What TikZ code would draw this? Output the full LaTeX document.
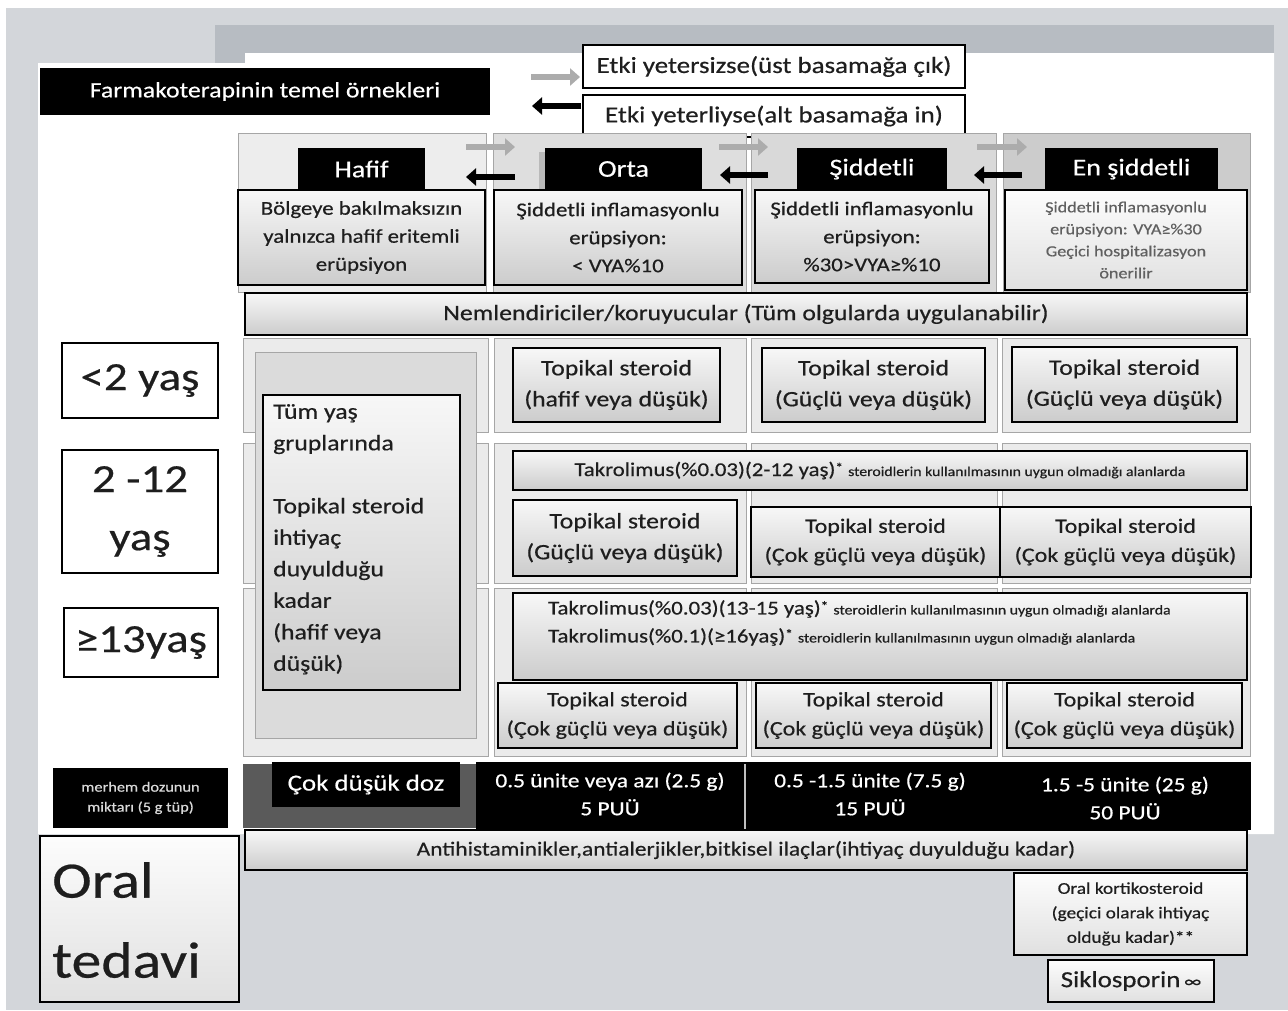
\documentclass[tikz,border=0pt]{standalone}
\usepackage{fontspec}
\setmainfont{Carlito}[FakeStretch=1.17,FakeBold=0.5]
\usetikzlibrary{arrows.meta}
\definecolor{bggray}{HTML}{D3D6DA}
\definecolor{bandgray}{HTML}{B7BCC2}
\definecolor{paneledge}{HTML}{A6A6A6}
\definecolor{ink}{HTML}{1E1E1E}
\definecolor{dosegray}{HTML}{5A5A5A}
\newcommand\fs[2]{\fontsize{#1}{#2}\selectfont}
\newcommand\bx[7]{%
  \pgfmathsetmacro\bxw{#4-#2}\pgfmathsetmacro\bxh{#5-#3}%
  \pgfmathsetmacro\bxcx{(#2+#4)/2}\pgfmathsetmacro\bxcy{(#3+#5)/2}%
  \node[#1, minimum width=\bxw pt, minimum height=\bxh pt] (#6) at (\bxcx,\bxcy) {#7};}
\newcommand\astk{\raisebox{4pt}{\fs{13}{13}*}}
\tikzset{
  box/.style={draw=black, line width=1.6pt, inner sep=0pt, text=ink, align=center},
  wbox/.style={box, fill=white},
  gbox/.style={box, top color=white!97!black, bottom color=white!80!black},
  lbox/.style={box, top color=white!99!black, bottom color=white!88!black},
  bbox/.style={fill=black, text=white, inner sep=0pt, align=center},
  panel/.style={draw=paneledge, line width=0.8pt},
  cell/.style={draw=paneledge, line width=0.8pt, fill=white!92!black},
  uparr/.style={line width=6pt, draw=gray!65, -{Triangle[length=10pt,width=17pt]}},
  dnarr/.style={line width=6pt, draw=black, -{Triangle[length=10pt,width=17pt]}},
}
\begin{document}
\begin{tikzpicture}[x=1pt,y=-1pt]
\useasboundingbox (0,0) rectangle (1288,1010);
% slide background
\fill[white] (0,0) rectangle (1288,1010);
\fill[bggray] (6,8) rectangle (1288,1010);
\fill[bandgray] (215,25) rectangle (1274,53);
\fill[bandgray] (215,25) rectangle (245,63);
\fill[white] (38,63) -- (245,63) -- (245,53) -- (1274,53) -- (1274,834) -- (38,834) -- cycle;

% title and legend
\bx{bbox,font=\fs{22}{26}}{40}{68}{490}{115}{title}{Farmakoterapinin temel örnekleri}
\bx{wbox,font=\fs{23}{27}}{583}{45}{965}{88}{up}{Etki yetersizse(üst basamağa çık)}
\bx{wbox,font=\fs{23}{27}}{583}{95}{965}{137}{down}{Etki yeterliyse(alt basamağa in)}
\coordinate (ua) at (531,77); \coordinate (ub) at (580,77);
\coordinate (da) at (581,106); \coordinate (db) at (532,106);
\draw[uparr] (ua) -- (ub);
\draw[dnarr] (da) -- (db);

% header panels
\path[panel, fill=white!93!black] (238,133) rectangle (486,292);
\path[panel, fill=white!87!black] (493,133) rectangle (746,292);
\path[panel, fill=white!85!black] (751,133) rectangle (996,292);
\path[panel, fill=white!80!black] (1003,133) rectangle (1250,292);

% row panels
\foreach \ya/\yb in {338/432, 443/583, 588/756}{
  \path[cell] (243,\ya) rectangle (488,\yb);
  \path[cell] (494,\ya) rectangle (746,\yb);
  \path[cell] (751,\ya) rectangle (997,\yb);
  \path[cell] (1002,\ya) rectangle (1250,\yb);
}

% severity headers
\fill[gray!55] (539,152) rectangle (546,190);
\bx{bbox,font=\fs{24}{28}}{298}{148}{425}{190}{h1}{Hafif}
\bx{bbox,font=\fs{24}{28}}{545}{148}{702}{190}{h2}{Orta}
\bx{bbox,font=\fs{24}{28}}{797}{148}{947}{190}{h3}{Şiddetli}
\bx{bbox,font=\fs{24}{28}}{1045}{148}{1218}{190}{h4}{En şiddetli}

% column step arrows
\coordinate (c1a) at (466,147); \coordinate (c1b) at (515,147);
\coordinate (c1c) at (515,177); \coordinate (c1d) at (466,177);
\coordinate (c2a) at (719,147); \coordinate (c2b) at (768,147);
\coordinate (c2c) at (768,175); \coordinate (c2d) at (720,175);
\coordinate (c3a) at (977,147); \coordinate (c3b) at (1027,147);
\coordinate (c3c) at (1022,175); \coordinate (c3d) at (974,175);
\draw[uparr] (c1a) -- (c1b); \draw[dnarr] (c1c) -- (c1d);
\draw[uparr] (c2a) -- (c2b); \draw[dnarr] (c2c) -- (c2d);
\draw[uparr] (c3a) -- (c3b); \draw[dnarr] (c3c) -- (c3d);

% descriptions
\bx{gbox,font=\fs{19.5}{28}}{238}{190}{485}{285}{d1}{Bölgeye bakılmaksızın\\yalnızca hafif eritemli\\erüpsiyon}
\bx{gbox,font=\fs{19.5}{28}}{494}{190}{742}{285}{d2}{Şiddetli inflamasyonlu\\erüpsiyon:\\< VYA\%10}
\bx{gbox,font=\fs{19.5}{28}}{755}{190}{989}{283}{d3}{Şiddetli inflamasyonlu\\erüpsiyon:\\\%30>VYA≥\%10}
\bx{lbox,font=\fs{15.5}{22},text=gray!75!black}{1005}{190}{1247}{290}{d4}{Şiddetli inflamasyonlu\\erüpsiyon: VYA≥\%30\\Geçici hospitalizasyon\\önerilir}

\bx{gbox,font=\fs{22}{26}}{245}{293}{1247}{335}{nem}{Nemlendiriciler/koruyucular (Tüm olgularda uygulanabilir)}

% ages
\bx{wbox,font=\fs{40}{44}}{62}{343}{218}{418}{a1}{<2 yaş}
\bx{wbox,font=\fs{40}{58}}{62}{450}{218}{573}{a2}{2 -12\\yaş}
\bx{wbox,font=\fs{40}{44}}{64}{608}{218}{677}{a3}{≥13yaş}

% all ages column
\path[draw=paneledge, fill=white!86!black, line width=1pt] (255,352) rectangle (476,738);
\bx{gbox}{263}{395}{460}{690}{tum}{}
\node[anchor=north west, align=left, font=\fs{22}{31.5}, text=ink, inner sep=0pt] (tumtxt) at (273,404)
  {Tüm yaş\\gruplarında\\[31.5pt]Topikal steroid\\ihtiyaç\\duyulduğu\\kadar\\(hafif veya\\düşük)};

% row 1
\bx{gbox,font=\fs{22}{31}}{513}{348}{720}{422}{r1b}{Topikal steroid\\(hafif veya düşük)}
\bx{gbox,font=\fs{22}{31}}{762}{348}{985}{422}{r1c}{Topikal steroid\\(Güçlü veya düşük)}
\bx{gbox,font=\fs{22}{31}}{1012}{347}{1237}{422}{r1d}{Topikal steroid\\(Güçlü veya düşük)}

% row 2
\bx{gbox,font=\fs{19.5}{24}}{513}{451}{1247}{490}{tak1}{Takrolimus(\%0.03)(2-12 yaş)\astk\ {\fs{13.5}{16}steroidlerin kullanılmasının uygun olmadığı alanlarda}}
\bx{gbox,font=\fs{22}{31}}{513}{500}{737}{576}{r2b}{Topikal steroid\\(Güçlü veya düşük)}
\bx{gbox,font=\fs{20.5}{29}}{751}{507}{1000}{577}{r2c}{Topikal steroid\\(Çok güçlü veya düşük)}
\bx{gbox,font=\fs{20.5}{29}}{1000}{507}{1251}{577}{r2d}{Topikal steroid\\(Çok güçlü veya düşük)}

% row 3
\bx{gbox}{513}{593}{1247}{680}{tak2}{}
\node[anchor=north west, align=left, font=\fs{19.5}{28}, text=ink, inner sep=0pt] (tak2txt) at (548,600)
  {Takrolimus(\%0.03)(13-15 yaş)\astk\ {\fs{13.5}{16}steroidlerin kullanılmasının uygun olmadığı alanlarda}\\
   Takrolimus(\%0.1)(≥16yaş)\astk\ {\fs{13.5}{16}steroidlerin kullanılmasının uygun olmadığı alanlarda}};
\bx{gbox,font=\fs{20.5}{29}}{498}{683}{737}{748}{r3b}{Topikal steroid\\(Çok güçlü veya düşük)}
\bx{gbox,font=\fs{20.5}{29}}{756}{683}{991}{748}{r3c}{Topikal steroid\\(Çok güçlü veya düşük)}
\bx{gbox,font=\fs{20.5}{29}}{1007}{683}{1242}{748}{r3d}{Topikal steroid\\(Çok güçlü veya düşük)}

% dose row
\fill[dosegray] (243,764) rectangle (480,828);
\bx{bbox}{476}{762}{1251}{830}{dosebar}{}
\draw[gray!50, line width=1.5pt] (745,764) -- (745,830);
\bx{bbox,font=\fs{23}{27}}{272}{762}{460}{807}{cok}{Çok düşük doz}
\node[text=white, align=center, font=\fs{20}{28}, inner sep=0pt] (dz1) at (610,794) {0.5 ünite veya azı (2.5 g)\\5 PUÜ};
\node[text=white, align=center, font=\fs{20}{28}, inner sep=0pt] (dz2) at (870,794) {0.5 -1.5 ünite (7.5 g)\\15 PUÜ};
\node[text=white, align=center, font=\fs{20}{28}, inner sep=0pt] (dz3) at (1125,798) {1.5 -5 ünite (25 g)\\50 PUÜ};
\bx{bbox,font=\fs{14}{20},text=white!85!black}{53}{768}{228}{828}{merhem}{merhem dozunun\\miktarı (5 g tüp)}

% oral
\bx{gbox,font=\fs{20}{24}}{245}{830}{1247}{870}{anti}{Antihistaminikler,antialerjikler,bitkisel ilaçlar(ihtiyaç duyulduğu kadar)}
\bx{lbox}{40}{836}{239}{1002}{oral}{}
\node[anchor=north west, align=left, font=\fs{51}{80}, text=ink, inner sep=0pt] (oraltxt) at (52,862) {Oral\\tedavi};
\bx{lbox,font=\fs{16.5}{24.5}}{1014}{873}{1247}{955}{okort}{Oral kortikosteroid\\(geçici olarak ihtiyaç\\olduğu kadar)**}
\bx{lbox,font=\fs{23}{27}}{1048}{960}{1214}{1002}{sik}{Siklosporin\,{\fs{17}{17}∞}}
\end{tikzpicture}
\end{document}
